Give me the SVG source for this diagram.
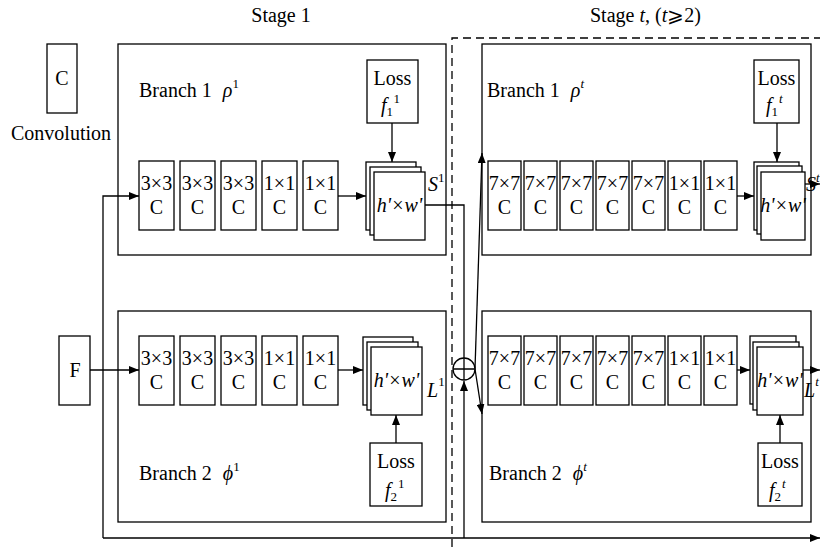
<svg xmlns="http://www.w3.org/2000/svg" width="820" height="547" viewBox="0 0 820 547" font-family="'Liberation Serif', 'Times New Roman', Tinos, 'DejaVu Serif', serif">
<style>
  text { font-family: "Liberation Serif", "Times New Roman", Tinos, "DejaVu Serif", serif; fill: #000; }
  .t { font-size: 20px; }
  .c { font-size: 20px; text-anchor: middle; }
  .b { font-size: 20px; }
  .i { font-style: italic; }
  .sup { font-size: 13px; }
  .box { fill: #fff; stroke: #000; stroke-width: 1.3; }
  .frame { fill: none; stroke: #000; stroke-width: 1.3; }
  .ln { fill: none; stroke: #000; stroke-width: 1.3; }
  .arr { fill: none; stroke: #000; stroke-width: 1.3; marker-end: url(#ah); }
  .dash { fill: none; stroke: #000; stroke-width: 1.3; stroke-dasharray: 8 5; }
</style>
<defs>
  <marker id="ah" markerUnits="userSpaceOnUse" markerWidth="11" markerHeight="8" refX="10" refY="4" orient="auto">
    <path d="M0,0 L10,4 L0,8 z" fill="#000"/>
  </marker>
</defs>
<rect width="820" height="547" fill="#fff"/>

<!-- stage labels -->
<text class="c" x="281" y="22">Stage 1</text>
<text class="t" x="590" y="22">Stage <tspan class="i">t</tspan>, (<tspan class="i">t</tspan>⩾2)</text>

<!-- frames -->
<g id="dashed-stage-t"><path class="dash" d="M452,547 V38 H820"/></g>
<g id="s1-branch1-frame"><rect class="frame" x="118" y="44" width="328" height="211"/></g>
<g id="s1-branch2-frame"><rect class="frame" x="118" y="311" width="328" height="211"/></g>
<g id="st-branch1-frame"><rect class="frame" x="482" y="44" width="329" height="211"/></g>
<g id="st-branch2-frame"><rect class="frame" x="482" y="311" width="329" height="211"/></g>

<!-- branch labels -->
<text class="b" x="139" y="97">Branch 1 <tspan class="i" dx="6">ρ</tspan><tspan class="sup" dy="-9">1</tspan></text>
<text class="b" x="139" y="480">Branch 2 <tspan class="i" dx="6">ϕ</tspan><tspan class="sup" dy="-9">1</tspan></text>
<text class="b" x="487" y="97">Branch 1 <tspan class="i" dx="6">ρ</tspan><tspan class="sup i" dy="-9">t</tspan></text>
<text class="b" x="489" y="480">Branch 2 <tspan class="i" dx="6">ϕ</tspan><tspan class="sup i" dy="-9">t</tspan></text>

<!-- legend -->
<g id="legend-conv">
  <rect class="box" x="47" y="44" width="30" height="69"/>
  <text class="c" x="62" y="85">C</text>
  <text class="c" x="61" y="140">Convolution</text>
</g>
<g id="input-F">
  <rect class="box" x="59" y="336" width="31" height="69"/>
  <text class="c" x="75" y="377">F</text>
</g>

<!-- connectors -->
<g id="connectors">
  <path class="arr" d="M90,370 H139"/>
  <path class="arr" d="M103,538 V196 H139"/>
  <path class="arr" d="M103,538 H820"/>
  <path class="arr" d="M338,196 H366"/>
  <path class="arr" d="M338,370 H363"/>
  <path class="arr" d="M392,123 V162"/>
  <path class="arr" d="M396,443 V415"/>
  <path class="ln" d="M425,205 H464 V358"/>
  <path class="arr" d="M464,538 V381"/>
  <path class="arr" d="M475,369 L482,153"/>
  <path class="arr" d="M475,369 L482,414"/>
  <path class="arr" d="M737,196 H754"/>
  <path class="arr" d="M737,370 H750"/>
  <path class="arr" d="M777,123 V162"/>
  <path class="arr" d="M780,443 V415"/>
  <path class="arr" d="M805,184 H820"/>
  <path class="arr" d="M803,370 H820"/>
</g>

<g id="sum">
  <circle class="box" cx="464" cy="369" r="11"/>
  <path class="ln" d="M453,369 H475 M464,358 V380"/>
</g>

<!-- stage 1 branch 1 convs -->
<g id="s1b1-conv1"><rect class="box" x="139" y="161" width="35" height="69"/><text class="c" x="156.5" y="190">3×3</text><text class="c" x="156.5" y="214">C</text></g>
<g id="s1b1-conv2"><rect class="box" x="180" y="161" width="35" height="69"/><text class="c" x="197.5" y="190">3×3</text><text class="c" x="197.5" y="214">C</text></g>
<g id="s1b1-conv3"><rect class="box" x="221" y="161" width="35" height="69"/><text class="c" x="238.5" y="190">3×3</text><text class="c" x="238.5" y="214">C</text></g>
<g id="s1b1-conv4"><rect class="box" x="262" y="161" width="35" height="69"/><text class="c" x="279.5" y="190">1×1</text><text class="c" x="279.5" y="214">C</text></g>
<g id="s1b1-conv5"><rect class="box" x="303" y="161" width="35" height="69"/><text class="c" x="320.5" y="190">1×1</text><text class="c" x="320.5" y="214">C</text></g>

<!-- stage 1 branch 2 convs -->
<g id="s1b2-conv1"><rect class="box" x="139" y="336" width="35" height="69"/><text class="c" x="156.5" y="365">3×3</text><text class="c" x="156.5" y="389">C</text></g>
<g id="s1b2-conv2"><rect class="box" x="180" y="336" width="35" height="69"/><text class="c" x="197.5" y="365">3×3</text><text class="c" x="197.5" y="389">C</text></g>
<g id="s1b2-conv3"><rect class="box" x="221" y="336" width="35" height="69"/><text class="c" x="238.5" y="365">3×3</text><text class="c" x="238.5" y="389">C</text></g>
<g id="s1b2-conv4"><rect class="box" x="262" y="336" width="35" height="69"/><text class="c" x="279.5" y="365">1×1</text><text class="c" x="279.5" y="389">C</text></g>
<g id="s1b2-conv5"><rect class="box" x="303" y="336" width="35" height="69"/><text class="c" x="320.5" y="365">1×1</text><text class="c" x="320.5" y="389">C</text></g>

<!-- stage 1 stacks -->
<g id="s1b1-stack">
  <rect class="box" x="366" y="162" width="50" height="68"/>
  <rect class="box" x="370" y="167" width="51" height="68"/>
  <rect class="box" x="374" y="172" width="51" height="68"/>
  <text class="c i" x="399.5" y="212">h'×w'</text>
  <text class="t i" x="428" y="191">S<tspan class="sup" font-style="normal" dy="-9">1</tspan></text>
</g>
<g id="s1b1-loss">
  <rect class="box" x="367" y="60" width="51" height="63"/>
  <text class="c" x="392.5" y="85">Loss</text>
  <text class="t" x="381" y="112"><tspan class="i">f</tspan><tspan class="sup" dy="4">1</tspan><tspan class="sup" dy="-13" dx="1">1</tspan></text>
</g>
<g id="s1b2-stack">
  <rect class="box" x="363" y="337" width="50" height="68"/>
  <rect class="box" x="367" y="342" width="51" height="68"/>
  <rect class="box" x="371" y="347" width="51" height="68"/>
  <text class="c i" x="396.5" y="387">h'×w'</text>
  <text class="t i" x="427" y="397">L<tspan class="sup" font-style="normal" dy="-11">1</tspan></text>
</g>
<g id="s1b2-loss">
  <rect class="box" x="370" y="443" width="52" height="63"/>
  <text class="c" x="396" y="468">Loss</text>
  <text class="t" x="385" y="497"><tspan class="i">f</tspan><tspan class="sup" dy="4">2</tspan><tspan class="sup" dy="-13" dx="1">1</tspan></text>
</g>

<!-- stage t branch 1 convs -->
<g id="stb1-conv1"><rect class="box" x="488" y="161" width="33" height="69"/><text class="c" x="504.5" y="190">7×7</text><text class="c" x="504.5" y="214">C</text></g>
<g id="stb1-conv2"><rect class="box" x="524" y="161" width="33" height="69"/><text class="c" x="540.5" y="190">7×7</text><text class="c" x="540.5" y="214">C</text></g>
<g id="stb1-conv3"><rect class="box" x="560" y="161" width="33" height="69"/><text class="c" x="576.5" y="190">7×7</text><text class="c" x="576.5" y="214">C</text></g>
<g id="stb1-conv4"><rect class="box" x="596" y="161" width="33" height="69"/><text class="c" x="612.5" y="190">7×7</text><text class="c" x="612.5" y="214">C</text></g>
<g id="stb1-conv5"><rect class="box" x="632" y="161" width="33" height="69"/><text class="c" x="648.5" y="190">7×7</text><text class="c" x="648.5" y="214">C</text></g>
<g id="stb1-conv6"><rect class="box" x="668" y="161" width="33" height="69"/><text class="c" x="684.5" y="190">1×1</text><text class="c" x="684.5" y="214">C</text></g>
<g id="stb1-conv7"><rect class="box" x="704" y="161" width="33" height="69"/><text class="c" x="720.5" y="190">1×1</text><text class="c" x="720.5" y="214">C</text></g>

<!-- stage t branch 2 convs -->
<g id="stb2-conv1"><rect class="box" x="488" y="336" width="33" height="69"/><text class="c" x="504.5" y="365">7×7</text><text class="c" x="504.5" y="389">C</text></g>
<g id="stb2-conv2"><rect class="box" x="524" y="336" width="33" height="69"/><text class="c" x="540.5" y="365">7×7</text><text class="c" x="540.5" y="389">C</text></g>
<g id="stb2-conv3"><rect class="box" x="560" y="336" width="33" height="69"/><text class="c" x="576.5" y="365">7×7</text><text class="c" x="576.5" y="389">C</text></g>
<g id="stb2-conv4"><rect class="box" x="596" y="336" width="33" height="69"/><text class="c" x="612.5" y="365">7×7</text><text class="c" x="612.5" y="389">C</text></g>
<g id="stb2-conv5"><rect class="box" x="632" y="336" width="33" height="69"/><text class="c" x="648.5" y="365">7×7</text><text class="c" x="648.5" y="389">C</text></g>
<g id="stb2-conv6"><rect class="box" x="668" y="336" width="33" height="69"/><text class="c" x="684.5" y="365">1×1</text><text class="c" x="684.5" y="389">C</text></g>
<g id="stb2-conv7"><rect class="box" x="704" y="336" width="33" height="69"/><text class="c" x="720.5" y="365">1×1</text><text class="c" x="720.5" y="389">C</text></g>

<!-- stage t stacks -->
<g id="stb1-stack">
  <rect class="box" x="754" y="162" width="45" height="68"/>
  <rect class="box" x="757" y="166" width="45" height="68"/>
  <rect class="box" x="761" y="172" width="44" height="68"/>
  <text class="c i" x="783" y="212">h'×w'</text>
  <text class="t i" x="806" y="191">S<tspan class="sup" dy="-9">t</tspan></text>
</g>
<g id="stb1-loss">
  <rect class="box" x="754" y="60" width="45" height="63"/>
  <text class="c" x="776.5" y="85">Loss</text>
  <text class="t" x="766" y="112"><tspan class="i">f</tspan><tspan class="sup" dy="4">1</tspan><tspan class="sup i" dy="-13" dx="1">t</tspan></text>
</g>
<g id="stb2-stack">
  <rect class="box" x="750" y="336" width="46" height="68"/>
  <rect class="box" x="753" y="342" width="46" height="68"/>
  <rect class="box" x="757" y="347" width="46" height="68"/>
  <text class="c i" x="780" y="387">h'×w'</text>
  <text class="t i" x="804" y="397">L<tspan class="sup" dy="-11">t</tspan></text>
</g>
<g id="stb2-loss">
  <rect class="box" x="758" y="443" width="44" height="63"/>
  <text class="c" x="780" y="468">Loss</text>
  <text class="t" x="769" y="497"><tspan class="i">f</tspan><tspan class="sup" dy="4">2</tspan><tspan class="sup i" dy="-13" dx="1">t</tspan></text>
</g>
</svg>
